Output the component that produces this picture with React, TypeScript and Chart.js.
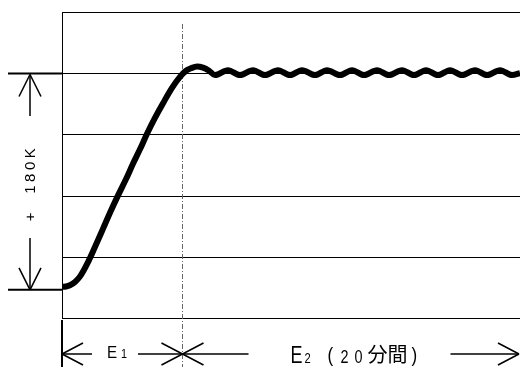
import { useEffect, useRef } from "react";
import { Chart, registerables } from "chart.js";

Chart.register(...registerables);

// time in minutes (E1 heating phase, then E2 = 20 min hold)
const TIME_MIN = [
  0, 0.24, 0.47, 0.77, 1.07, 1.48, 1.95, 2.43, 2.84, 3.31, 3.79, 4.2, 4.62, 5.03, 5.5, 5.98,
  6.51, 6.98, 7.34, 7.63, 7.99, 8.34, 8.7, 9.05, 9.82, 10.53, 11.3, 12.01, 12.78, 13.49, 14.2,
  14.97, 15.68, 16.45, 17.16, 17.87, 18.64, 19.35, 20.12, 20.83, 21.54, 22.25, 22.96, 23.67,
  24.44, 25.15, 25.92, 26.63, 27.1,
];
// temperature level in grid units
const TEMP_LEVEL = [
  0.51, 0.515, 0.535, 0.59, 0.68, 0.88, 1.16, 1.46, 1.72, 2.0, 2.27, 2.52, 2.76, 3.01, 3.27, 3.51,
  3.76, 3.94, 4.04, 4.08, 4.11, 4.09, 4.04, 3.97, 4.05, 3.97, 4.05, 3.97, 4.05, 3.97, 4.05,
  3.97, 4.05, 3.97, 4.05, 3.97, 4.05, 3.97, 4.05, 3.97, 4.05, 3.97, 4.05, 3.97, 4.05, 3.97,
  4.05, 3.97, 4.0,
];
const GRID_LEVELS = [0, 1, 2, 3, 4, 5];
const X_MAX = 27.1;
const E1_END = 7.1;
const BASE_LEVEL = 0.46;
const TOP_LEVEL = 4;
const RISE_LABEL = "+  180K";
const E1_LABEL = ["E", "1"];
const E2_LABEL = ["E", "2", "(", "2", "0", "分間", ")"];

function seg(ctx: CanvasRenderingContext2D, x1: number, y1: number, x2: number, y2: number, w: number) {
  ctx.beginPath();
  ctx.lineWidth = w;
  ctx.moveTo(x1, y1);
  ctx.lineTo(x2, y2);
  ctx.stroke();
}

function headH(ctx: CanvasRenderingContext2D, tx: number, ty: number, dir: number) {
  seg(ctx, tx, ty, tx - dir * 21, ty - 11, 1.5);
  seg(ctx, tx, ty, tx - dir * 21, ty + 11, 1.5);
}

function headV(ctx: CanvasRenderingContext2D, tx: number, ty: number, dir: number) {
  seg(ctx, tx, ty, tx - 11, ty - dir * 22, 1.5);
  seg(ctx, tx, ty, tx + 11, ty - dir * 22, 1.5);
}

function txt(
  ctx: CanvasRenderingContext2D,
  s: string,
  x: number,
  y: number,
  size: number,
  sx: number,
  family = '"Liberation Sans", "Noto Sans CJK JP", sans-serif'
) {
  ctx.save();
  ctx.translate(x, y);
  ctx.scale(sx, 1);
  ctx.font = `${size}px ${family}`;
  ctx.textAlign = "left";
  ctx.textBaseline = "alphabetic";
  ctx.fillStyle = "#000";
  ctx.fillText(s, 0, 0);
  ctx.restore();
}

const decor = {
  id: "decor",
  beforeDatasetsDraw(chart: any) {
    const ctx: CanvasRenderingContext2D = chart.ctx;
    const xs = chart.scales.x;
    const ys = chart.scales.y;
    const a = chart.chartArea;
    ctx.save();
    ctx.strokeStyle = "#000";
    ctx.lineCap = "butt";
    GRID_LEVELS.forEach((v) => {
      const y = Math.round(ys.getPixelForValue(v)) + 0.5;
      seg(ctx, a.left, y, a.right, y, 1);
    });
    seg(ctx, a.left + 0.5, a.top, a.left + 0.5, a.bottom, 1);
    const xb = Math.round(xs.getPixelForValue(E1_END)) + 0.5;
    ctx.save();
    ctx.strokeStyle = "#666";
    ctx.setLineDash([5, 2, 1, 2]);
    seg(ctx, xb, a.top + 12, xb, chart.height, 1);
    ctx.restore();
    ctx.restore();
  },
  afterDatasetsDraw(chart: any) {
    const ctx: CanvasRenderingContext2D = chart.ctx;
    const xs = chart.scales.x;
    const ys = chart.scales.y;
    const a = chart.chartArea;
    ctx.save();
    ctx.strokeStyle = "#000";
    const yTop = Math.round(ys.getPixelForValue(TOP_LEVEL)) + 0.5;
    const yBase = ys.getPixelForValue(BASE_LEVEL);
    seg(ctx, 8, yTop, a.left, yTop, 2);
    seg(ctx, 8, yBase, a.left, yBase, 2);
    const ax = 30;
    headV(ctx, ax, yTop + 1, -1);
    seg(ctx, ax, yTop + 1, ax, 116, 1.5);
    seg(ctx, ax, 238, ax, yBase, 1.5);
    headV(ctx, ax, yBase, 1);
    ctx.save();
    ctx.translate(ax + 5, 185);
    ctx.rotate(-Math.PI / 2);
    ctx.font = '15px "Liberation Sans", sans-serif';
    (ctx as any).letterSpacing = "3.5px";
    ctx.textAlign = "center";
    ctx.textBaseline = "alphabetic";
    ctx.fillStyle = "#000";
    ctx.fillText(RISE_LABEL, 2, 0);
    ctx.restore();

    seg(ctx, a.left, a.bottom + 2, a.left, chart.height, 2);

    const ay = 354;
    const x0 = xs.getPixelForValue(0);
    const xb = Math.round(xs.getPixelForValue(E1_END)) + 0.5;
    const xe = xs.getPixelForValue(X_MAX) - 1;
    headH(ctx, x0, ay, -1);
    seg(ctx, x0, ay, x0 + 30, ay, 1.5);
    seg(ctx, x0 + 76, ay, xb, ay, 1.5);
    headH(ctx, xb, ay, 1);
    headH(ctx, xb, ay, -1);
    seg(ctx, xb, ay, xb + 66, ay, 1.5);
    seg(ctx, xb + 268, ay, xe, ay, 1.5);
    headH(ctx, xe, ay, 1);

    txt(ctx, E1_LABEL[0], x0 + 45, 358, 16, 0.95);
    txt(ctx, E1_LABEL[1], x0 + 59, 358, 12, 0.9);
    txt(ctx, E2_LABEL[0], xb + 108, 363, 23, 0.78);
    txt(ctx, E2_LABEL[1], xb + 122, 363, 14, 0.8);
    txt(ctx, E2_LABEL[2], xb + 145, 362, 20, 0.85);
    txt(ctx, E2_LABEL[3], xb + 158, 363, 18, 0.8);
    txt(ctx, E2_LABEL[4], xb + 172, 363, 18, 0.8);
    txt(ctx, E2_LABEL[5], xb + 185, 362, 20, 1, '"Noto Sans CJK JP", sans-serif');
    txt(ctx, E2_LABEL[6], xb + 229, 362, 20, 0.85);
    ctx.restore();
  },
};

export default function App() {
  const ref = useRef<HTMLCanvasElement | null>(null);
  useEffect(() => {
    document.body.style.margin = "0";
    const canvas = ref.current!;
    const chart = new Chart(canvas, {
      type: "line",
      data: {
        datasets: [
          {
            data: TIME_MIN.map((t, i) => ({ x: t, y: TEMP_LEVEL[i] })),
            borderColor: "#000",
            borderWidth: 6,
            pointRadius: 0,
            cubicInterpolationMode: "monotone",
            fill: false,
          },
        ],
      },
      options: {
        animation: false,
        responsive: false,
        devicePixelRatio: 1,
        layout: { padding: { left: 62, top: 12, right: 0, bottom: 49 } },
        plugins: { legend: { display: false }, tooltip: { enabled: false } },
        scales: {
          x: { type: "linear", min: 0, max: X_MAX, display: false },
          y: { type: "linear", min: 0, max: 5, display: false },
        },
      },
      plugins: [decor],
    });
    return () => chart.destroy();
  }, []);
  return <canvas ref={ref} width={520} height={367} style={{ display: "block" }} />;
}
